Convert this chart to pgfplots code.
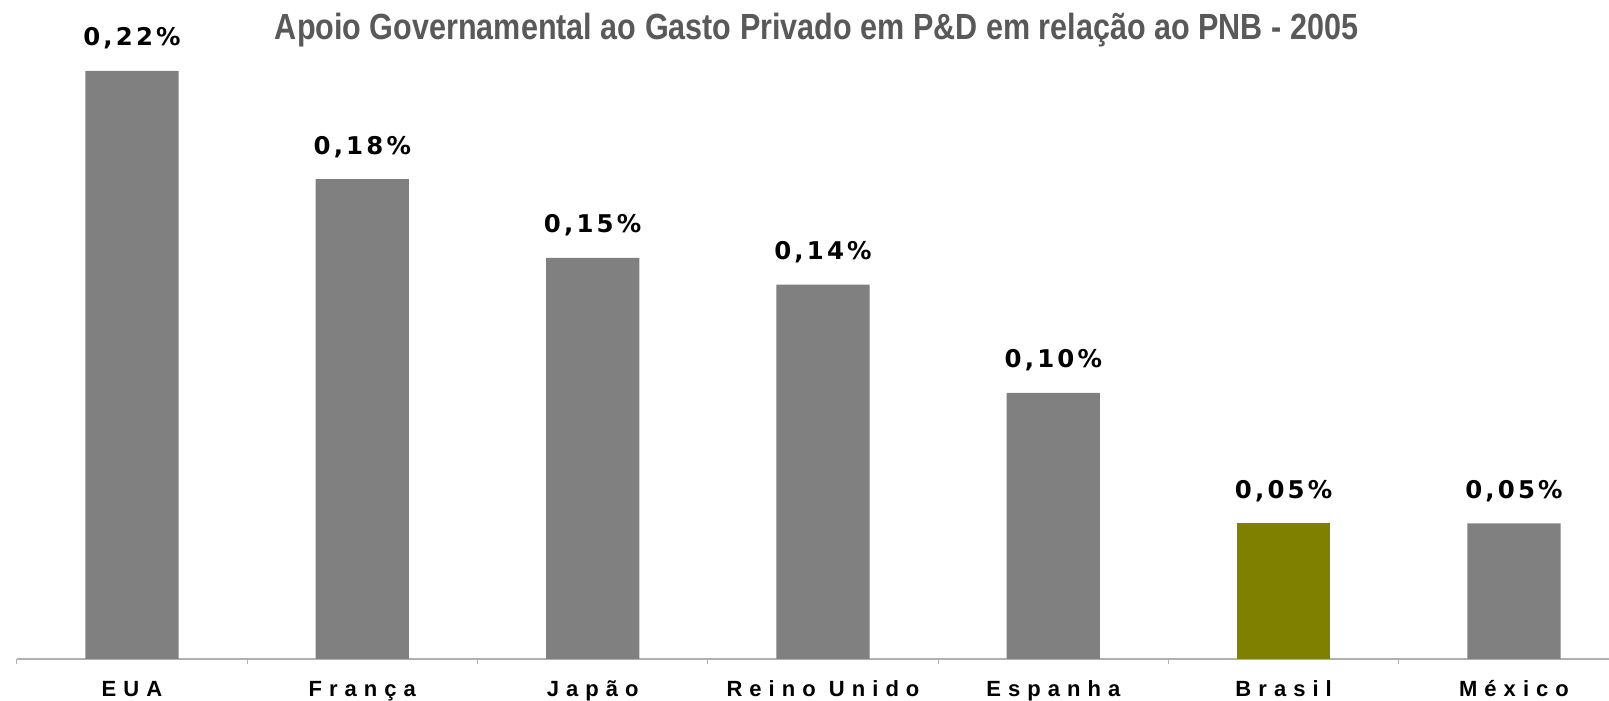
\documentclass[border=0pt]{standalone}
\usepackage{fontspec}
\setmainfont{Liberation Sans}
\newfontfamily\valfont{DejaVu Sans}[LetterSpace=13]
\newfontfamily\catfont{Liberation Sans}[LetterSpace=32]
\usepackage{graphicx}
\usepackage{pgfplots}
\pgfplotsset{compat=1.18}
\definecolor{bargray}{HTML}{808080}
\definecolor{barolive}{HTML}{808000}
\definecolor{titlegray}{HTML}{595959}
\definecolor{axisgray}{HTML}{B0B0B0}
\begin{document}
\begin{tikzpicture}
\begin{axis}[
  name=ax,
  scale only axis,
  width=796.1pt, height=329.5pt,
  xmin=-0.5, xmax=6.4125,
  ymin=0, ymax=0.2465,
  enlargelimits=false,
  clip=false,
  ybar,
  axis x line=bottom,
  axis y line=none,
  x axis line style={-, draw=axisgray, line width=0.8pt},
  xtick={0,1,2,3,4,5,6},
  xticklabels={EUA,França,Japão,Reino Unido,Espanha,Brasil,México},
  major tick length=0pt,
  minor xtick={-0.5,0.5,1.5,2.5,3.5,4.5,5.5},
  minor tick length=2.5pt,
  tick align=outside,
  minor tick style={draw=axisgray, line width=0.6pt},
  xticklabel style={anchor=base, inner sep=0pt, yshift=-18.85pt,
    font=\catfont\bfseries\fontsize{11}{12}\selectfont, text=black},
  ytick=\empty,
  nodes near coords,
  point meta=explicit symbolic,
  every node near coord/.append style={anchor=base, inner sep=0pt, yshift=12.5pt,
    font=\valfont\bfseries\fontsize{12.2}{14}\selectfont, text=black},
]
\addplot[ybar, bar shift=0pt, bar width=0.405, fill=bargray, draw=none]
  coordinates {(0,0.2200) [0,22\%] (1,0.1795) [0,18\%] (2,0.1500) [0,15\%]
               (3,0.1400) [0,14\%] (4,0.0995) [0,10\%] (6,0.0507) [0,05\%]};
\addplot[ybar, bar shift=0pt, bar width=0.405, fill=barolive, draw=none]
  coordinates {(5,0.0507) [0,05\%]};
\node[anchor=base, inner sep=0pt, text=titlegray, yshift=-19.65pt]
  at (axis cs:2.972,0.2465)
  {\resizebox{541.5pt}{\height}{\fontsize{18.2}{20}\selectfont\bfseries Apoio Governamental ao Gasto Privado em P\&D em relação ao PNB - 2005}};
\end{axis}
\pgfresetboundingbox
\path[use as bounding box] ([xshift=-8.4pt, yshift=-21pt]ax.south west) rectangle (ax.north east);
\end{tikzpicture}
\end{document}
